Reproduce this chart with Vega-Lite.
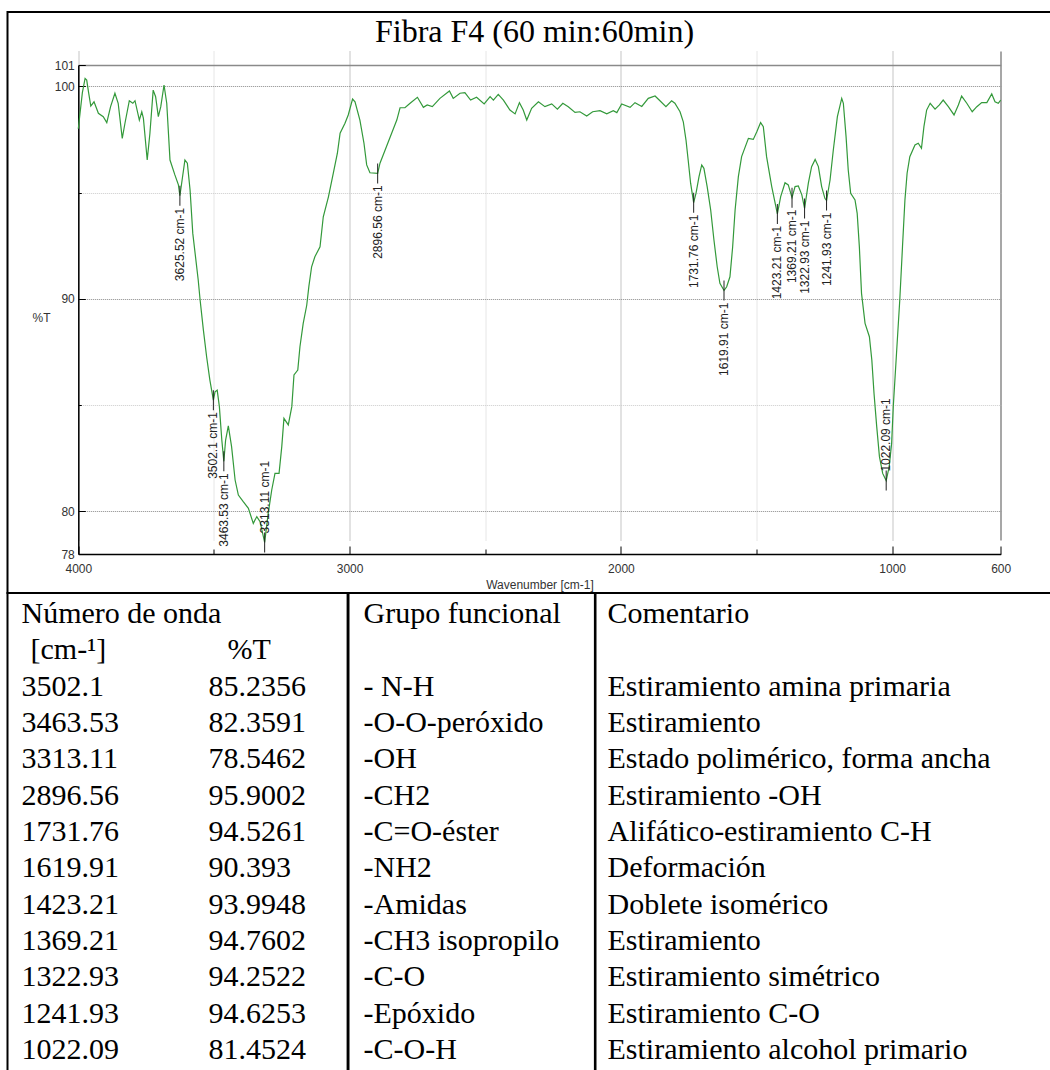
{
  "$schema": "https://vega.github.io/schema/vega-lite/v6.json",
  "background": "white",
  "padding": {"left": 6.5, "top": 11, "right": 0, "bottom": 0},
  "bounds": "flush",
  "spacing": 0,
  "config": {
    "view": {"stroke": "#000", "strokeWidth": 2},
    "axis": {"labelFont": "Liberation Sans", "labelFontSize": 12, "labelColor": "#333", "titleFont": "Liberation Sans", "titleFontSize": 12, "titleFontWeight": "normal", "titleColor": "#333"}
  },
  "datasets": {
    "curva": [
      {"wn":4000,"t":98.0},{"wn":3993,"t":98.8},{"wn":3985,"t":99.7},{"wn":3975,"t":100.37},{"wn":3969,"t":100.29},{"wn":3962,"t":99.7},{"wn":3954,"t":99.07},{"wn":3942,"t":99.27},{"wn":3926,"t":98.73},{"wn":3908,"t":98.57},{"wn":3895,"t":98.29},{"wn":3881,"t":99.04},{"wn":3865,"t":99.67},{"wn":3853,"t":99.2},{"wn":3838,"t":97.55},{"wn":3828,"t":98.26},{"wn":3812,"t":99.32},{"wn":3799,"t":99.2},{"wn":3791,"t":99.32},{"wn":3775,"t":98.41},{"wn":3766,"t":98.8},{"wn":3760,"t":98.49},{"wn":3746,"t":96.53},{"wn":3736,"t":97.79},{"wn":3724,"t":99.82},{"wn":3715,"t":99.51},{"wn":3705,"t":98.57},{"wn":3696,"t":99.04},{"wn":3684,"t":100.06},{"wn":3674,"t":99.2},{"wn":3662,"t":96.53},{"wn":3644,"t":95.83},{"wn":3631,"t":95.36},{"wn":3625.52,"t":94.85},{"wn":3619,"t":95.44},{"wn":3607,"t":96.53},{"wn":3598,"t":96.38},{"wn":3588,"t":95.12},{"wn":3578,"t":93.08},{"wn":3558,"t":90.89},{"wn":3551,"t":89.95},{"wn":3539,"t":88.54},{"wn":3527,"t":87.28},{"wn":3515,"t":86.18},{"wn":3502.1,"t":85.2356},{"wn":3496,"t":85.63},{"wn":3488,"t":85.71},{"wn":3480,"t":84.93},{"wn":3471,"t":83.36},{"wn":3463.53,"t":82.3591},{"wn":3457,"t":83.36},{"wn":3447,"t":84.03},{"wn":3435,"t":83.05},{"wn":3422,"t":81.48},{"wn":3410,"t":80.77},{"wn":3392,"t":80.46},{"wn":3373,"t":80.15},{"wn":3355,"t":79.44},{"wn":3342,"t":79.76},{"wn":3330,"t":79.52},{"wn":3313.11,"t":78.5462},{"wn":3300,"t":79.91},{"wn":3287,"t":81.01},{"wn":3275,"t":81.79},{"wn":3260,"t":81.79},{"wn":3250,"t":83.05},{"wn":3242,"t":84.38},{"wn":3226,"t":84.07},{"wn":3213,"t":84.93},{"wn":3205,"t":86.42},{"wn":3191,"t":86.65},{"wn":3183,"t":87.75},{"wn":3171,"t":88.85},{"wn":3158,"t":89.7},{"wn":3150,"t":90.6},{"wn":3140,"t":91.51},{"wn":3128,"t":91.98},{"wn":3109,"t":92.45},{"wn":3097,"t":93.86},{"wn":3078,"t":94.8},{"wn":3060,"t":95.91},{"wn":3045,"t":96.85},{"wn":3035,"t":97.79},{"wn":3017,"t":98.26},{"wn":3005,"t":98.65},{"wn":2989,"t":99.4},{"wn":2980,"t":99.27},{"wn":2962,"t":98.41},{"wn":2947,"t":97.32},{"wn":2937,"t":96.3},{"wn":2925,"t":95.93},{"wn":2896.56,"t":95.9002},{"wn":2888,"t":96.38},{"wn":2869,"t":97.0},{"wn":2845,"t":97.79},{"wn":2826,"t":98.41},{"wn":2814,"t":98.99},{"wn":2796,"t":98.99},{"wn":2777,"t":99.2},{"wn":2750,"t":99.48},{"wn":2728,"t":99.01},{"wn":2714,"t":99.12},{"wn":2695,"t":99.04},{"wn":2667,"t":99.43},{"wn":2632,"t":99.78},{"wn":2618,"t":99.43},{"wn":2593,"t":99.67},{"wn":2575,"t":99.7},{"wn":2554,"t":99.35},{"wn":2532,"t":99.48},{"wn":2504,"t":99.17},{"wn":2482,"t":99.51},{"wn":2470,"t":99.35},{"wn":2452,"t":99.62},{"wn":2433,"t":99.35},{"wn":2409,"t":98.88},{"wn":2390,"t":98.7},{"wn":2374,"t":99.23},{"wn":2360,"t":98.88},{"wn":2347,"t":98.41},{"wn":2329,"t":98.96},{"wn":2304,"t":99.27},{"wn":2280,"t":99.04},{"wn":2255,"t":99.17},{"wn":2234,"t":98.92},{"wn":2214,"t":99.2},{"wn":2194,"t":99.04},{"wn":2169,"t":98.77},{"wn":2151,"t":98.8},{"wn":2126,"t":98.6},{"wn":2104,"t":98.8},{"wn":2077,"t":98.85},{"wn":2052,"t":98.7},{"wn":2028,"t":98.85},{"wn":2015,"t":98.76},{"wn":1997,"t":99.17},{"wn":1966,"t":99.01},{"wn":1948,"t":99.23},{"wn":1923,"t":99.05},{"wn":1899,"t":99.43},{"wn":1874,"t":99.54},{"wn":1856,"t":99.32},{"wn":1834,"t":99.04},{"wn":1813,"t":99.32},{"wn":1801,"t":99.2},{"wn":1782,"t":98.8},{"wn":1770,"t":98.33},{"wn":1760,"t":97.47},{"wn":1752,"t":96.53},{"wn":1743,"t":95.44},{"wn":1731.76,"t":94.5261},{"wn":1723,"t":94.97},{"wn":1712,"t":95.75},{"wn":1702,"t":96.3},{"wn":1694,"t":96.14},{"wn":1682,"t":95.28},{"wn":1669,"t":94.18},{"wn":1657,"t":92.77},{"wn":1645,"t":91.51},{"wn":1635,"t":90.73},{"wn":1619.91,"t":90.393},{"wn":1610,"t":90.57},{"wn":1598,"t":91.04},{"wn":1588,"t":92.45},{"wn":1579,"t":94.18},{"wn":1567,"t":95.75},{"wn":1555,"t":96.69},{"wn":1530,"t":97.55},{"wn":1512,"t":97.5},{"wn":1499,"t":97.86},{"wn":1485,"t":98.29},{"wn":1475,"t":98.1},{"wn":1463,"t":96.69},{"wn":1444,"t":95.28},{"wn":1423.21,"t":93.9948},{"wn":1411,"t":94.81},{"wn":1395,"t":95.46},{"wn":1383,"t":95.36},{"wn":1369.21,"t":94.7602},{"wn":1358,"t":95.28},{"wn":1346,"t":95.31},{"wn":1333,"t":94.89},{"wn":1322.93,"t":94.2522},{"wn":1309,"t":95.44},{"wn":1297,"t":96.22},{"wn":1284,"t":96.56},{"wn":1272,"t":96.22},{"wn":1260,"t":95.28},{"wn":1248,"t":94.73},{"wn":1241.93,"t":94.6253},{"wn":1229,"t":95.59},{"wn":1217,"t":97.0},{"wn":1202,"t":98.57},{"wn":1186,"t":99.43},{"wn":1180,"t":99.2},{"wn":1170,"t":97.63},{"wn":1162,"t":96.06},{"wn":1153,"t":94.97},{"wn":1137,"t":94.65},{"wn":1129,"t":94.02},{"wn":1121,"t":92.45},{"wn":1113,"t":90.26},{"wn":1100,"t":88.85},{"wn":1084,"t":88.22},{"wn":1075,"t":87.12},{"wn":1067,"t":85.56},{"wn":1057,"t":83.99},{"wn":1047,"t":82.58},{"wn":1035,"t":81.79},{"wn":1022.09,"t":81.4524},{"wn":1011,"t":82.11},{"wn":1002,"t":83.21},{"wn":996,"t":84.93},{"wn":984,"t":87.44},{"wn":972,"t":89.95},{"wn":962,"t":92.45},{"wn":953,"t":94.65},{"wn":945,"t":95.91},{"wn":935,"t":96.69},{"wn":916,"t":97.24},{"wn":904,"t":97.32},{"wn":892,"t":97.08},{"wn":883,"t":98.1},{"wn":873,"t":98.88},{"wn":860,"t":99.2},{"wn":842,"t":98.92},{"wn":826,"t":99.12},{"wn":812,"t":99.35},{"wn":793,"t":99.04},{"wn":772,"t":98.65},{"wn":756,"t":99.12},{"wn":744,"t":99.54},{"wn":725,"t":99.2},{"wn":705,"t":98.8},{"wn":688,"t":99.04},{"wn":670,"t":99.23},{"wn":651,"t":99.23},{"wn":633,"t":99.64},{"wn":621,"t":99.27},{"wn":609,"t":99.2},{"wn":600,"t":99.35}
    ],
    "picos": [
      {"wn":3625.52,"t":94.85,"lab":"3625.52 cm-1"},
      {"wn":3502.1,"t":85.2356,"lab":"3502.1 cm-1"},
      {"wn":3463.53,"t":82.3591,"lab":"3463.53 cm-1"},
      {"wn":3313.11,"t":78.5462,"lab":"3313.11 cm-1"},
      {"wn":2896.56,"t":95.9002,"lab":"2896.56 cm-1"},
      {"wn":1731.76,"t":94.5261,"lab":"1731.76 cm-1"},
      {"wn":1619.91,"t":90.393,"lab":"1619.91 cm-1"},
      {"wn":1423.21,"t":93.9948,"lab":"1423.21 cm-1"},
      {"wn":1369.21,"t":94.7602,"lab":"1369.21 cm-1"},
      {"wn":1322.93,"t":94.2522,"lab":"1322.93 cm-1"},
      {"wn":1241.93,"t":94.6253,"lab":"1241.93 cm-1"},
      {"wn":1022.09,"t":81.4524,"lab":"1022.09 cm-1"}
    ],
    "tabla": [
      {"n":1,"a":"Número de onda","b":"","g":"Grupo funcional","c":"Comentario"},
      {"n":2,"a":"[cm-¹]","b":"%T","g":"","c":""},
      {"n":3,"a":"3502.1","b":"85.2356","g":"- N-H","c":"Estiramiento amina primaria"},
      {"n":4,"a":"3463.53","b":"82.3591","g":"-O-O-peróxido","c":"Estiramiento"},
      {"n":5,"a":"3313.11","b":"78.5462","g":"-OH","c":"Estado polimérico, forma ancha"},
      {"n":6,"a":"2896.56","b":"95.9002","g":"-CH2","c":"Estiramiento -OH"},
      {"n":7,"a":"1731.76","b":"94.5261","g":"-C=O-éster","c":"Alifático-estiramiento C-H"},
      {"n":8,"a":"1619.91","b":"90.393","g":"-NH2","c":"Deformación"},
      {"n":9,"a":"1423.21","b":"93.9948","g":"-Amidas","c":"Doblete isomérico"},
      {"n":10,"a":"1369.21","b":"94.7602","g":"-CH3 isopropilo","c":"Estiramiento"},
      {"n":11,"a":"1322.93","b":"94.2522","g":"-C-O","c":"Estiramiento simétrico"},
      {"n":12,"a":"1241.93","b":"94.6253","g":"-Epóxido","c":"Estiramiento C-O"},
      {"n":13,"a":"1022.09","b":"81.4524","g":"-C-O-H","c":"Estiramiento alcohol primario"}
    ]
  },
  "vconcat": [
    {
      "width": 1045,
      "height": 581,
      "encoding": {
        "y": {
          "field": "t", "type": "quantitative",
          "scale": {"domain": [78, 101], "range": [542, 53], "nice": false, "zero": false},
          "axis": {
            "values": [101, 100, 95, 90, 85, 80, 78],
            "offset": -70.8,
            "title": "%T", "titleAngle": 0, "titleX": -37.3, "titleY": 305, "titleAlign": "center", "titleBaseline": "middle",
            "domainColor": "#000", "domainWidth": 1.5,
            "tickColor": "#000", "tickWidth": 1,
            "tickSize": {"condition": {"test": "datum.value === 95 || datum.value === 85", "value": -3}, "value": -7},
            "labelExpr": "(datum.value === 95 || datum.value === 85) ? '' : datum.label",
            "labelPadding": 11,
            "labelFlush": false, "labelOverlap": false,
            "grid": true,
            "gridColor": {"condition": {"test": "datum.value === 95 || datum.value === 85", "value": "#cccccc"}, "value": "#8a8a8a"},
            "gridDash": {"condition": {"test": "datum.value === 101", "value": []}, "value": [1, 1]},
            "gridWidth": {"condition": {"test": "datum.value === 101", "value": 1.5}, "value": 1}
          }
        }
      },
      "layer": [
        {
          "data": {"name": "curva"},
          "mark": {"type": "line", "color": "#33993a", "strokeWidth": 1.2},
          "encoding": {
            "x": {
              "field": "wn", "type": "quantitative",
              "scale": {"domain": [4000, 600], "range": [70.8, 993.2], "nice": false, "zero": false},
              "axis": {
                "values": [4000, 3500, 3000, 2500, 2000, 1500, 1000, 600],
                "format": "d",
                "offset": -39,
                "title": "Wavenumber [cm-1]",
                "titlePadding": 2,
                "domainColor": "#000", "domainWidth": 1.5,
                "tickColor": "#000", "tickWidth": 1,
                "tickSize": {"condition": {"test": "datum.value % 1000 === 0 || datum.value === 600", "value": -8}, "value": -5},
                "labelExpr": "(datum.value % 1000 === 0 || datum.value === 600) ? datum.label : ''",
                "labelPadding": 17,
                "labelFlush": false, "labelOverlap": false, "labelBound": false,
                "grid": true,
                "gridColor": {"condition": {"test": "datum.value % 1000 === 0 || datum.value === 600", "value": "#8a8a8a"}, "value": "#cccccc"},
                "gridDash": {"condition": {"test": "datum.value === 600", "value": []}, "value": [1, 1]},
                "gridWidth": {"condition": {"test": "datum.value === 600", "value": 1.5}, "value": 1}
              }
            }
          }
        },
        {
          "data": {"name": "picos"},
          "mark": {"type": "tick", "orient": "vertical", "size": 20, "thickness": 1, "color": "#222", "opacity": 1},
          "encoding": {
            "x": {
              "field": "wn", "type": "quantitative",
              "scale": {"domain": [4000, 600], "range": [70.8, 993.2], "nice": false, "zero": false},
              "axis": {
                "orient": "top",
                "title": "Fibra F4 (60 min:60min)",
                "labels": false, "ticks": false, "domain": false, "grid": false,
                "titleFont": "Liberation Serif", "titleFontSize": 32, "titleFontWeight": "normal", "titleColor": "#000",
                "titleAngle": 0, "titleX": 526.5, "titleY": 29.7, "titleAlign": "center", "titleBaseline": "alphabetic"
              }
            }
          }
        },
        {
          "data": {"name": "picos"},
          "transform": [{"filter": "datum.wn !== 3313.11 && datum.wn !== 1022.09"}],
          "mark": {"type": "text", "angle": 270, "align": "right", "baseline": "middle", "dx": -12, "font": "Liberation Sans", "fontSize": 12, "color": "#222"},
          "encoding": {
            "x": {"field": "wn", "type": "quantitative", "scale": {"domain": [4000, 600], "range": [70.8, 993.2], "nice": false, "zero": false}, "axis": null},
            "text": {"field": "lab"}
          }
        },
        {
          "data": {"name": "picos"},
          "transform": [{"filter": "datum.wn === 3313.11 || datum.wn === 1022.09"}],
          "mark": {"type": "text", "angle": 270, "align": "left", "baseline": "middle", "dx": 9, "font": "Liberation Sans", "fontSize": 12, "color": "#222"},
          "encoding": {
            "x": {"field": "wn", "type": "quantitative", "scale": {"domain": [4000, 600], "range": [70.8, 993.2], "nice": false, "zero": false}, "axis": null},
            "text": {"field": "lab"}
          }
        }
      ],
      "resolve": {"axis": {"x": "independent"}}
    },
    {
      "hconcat": [
        {
          "width": 340.1,
          "height": 480,
          "data": {"name": "tabla"},
          "encoding": {"y": {"field": "n", "type": "quantitative", "scale": {"domain": [1, 13], "range": [21, 457], "nice": false, "zero": false}, "axis": null}},
          "layer": [
            {
              "transform": [{"filter": "datum.n !== 2"}],
              "mark": {"type": "text", "align": "left", "baseline": "middle", "font": "Liberation Serif", "fontSize": 30, "color": "#000"},
              "encoding": {
                "x": {"datum": "a", "type": "nominal", "scale": {"type": "point", "domain": ["a", "b"], "range": [14, 201], "padding": 0}, "axis": null},
                "text": {"field": "a"}
              }
            },
            {
              "transform": [{"filter": "datum.n !== 2"}],
              "mark": {"type": "text", "align": "left", "baseline": "middle", "font": "Liberation Serif", "fontSize": 30, "color": "#000"},
              "encoding": {
                "x": {"datum": "b", "type": "nominal", "scale": {"type": "point", "domain": ["a", "b"], "range": [14, 201], "padding": 0}, "axis": null},
                "text": {"field": "b"}
              }
            },
            {
              "transform": [{"filter": "datum.n === 2"}],
              "mark": {"type": "text", "align": "left", "baseline": "middle", "dx": 9, "font": "Liberation Serif", "fontSize": 30, "color": "#000"},
              "encoding": {
                "x": {"datum": "a", "type": "nominal", "scale": {"type": "point", "domain": ["a", "b"], "range": [14, 201], "padding": 0}, "axis": null},
                "text": {"field": "a"}
              }
            },
            {
              "transform": [{"filter": "datum.n === 2"}],
              "mark": {"type": "text", "align": "left", "baseline": "middle", "dx": 19, "font": "Liberation Serif", "fontSize": 30, "color": "#000"},
              "encoding": {
                "x": {"datum": "b", "type": "nominal", "scale": {"type": "point", "domain": ["a", "b"], "range": [14, 201], "padding": 0}, "axis": null},
                "text": {"field": "b"}
              }
            }
          ]
        },
        {
          "width": 246.4,
          "height": 480,
          "data": {"name": "tabla"},
          "mark": {"type": "text", "align": "left", "baseline": "middle", "font": "Liberation Serif", "fontSize": 30, "color": "#000"},
          "encoding": {
            "y": {"field": "n", "type": "quantitative", "scale": {"domain": [1, 13], "range": [21, 457], "nice": false, "zero": false}, "axis": null},
            "x": {"datum": "g", "type": "nominal", "scale": {"type": "point", "domain": ["g"], "range": [0, 30], "padding": 0}, "axis": null},
            "text": {"field": "g"}
          }
        },
        {
          "width": 458.5,
          "height": 480,
          "data": {"name": "tabla"},
          "mark": {"type": "text", "align": "left", "baseline": "middle", "font": "Liberation Serif", "fontSize": 30, "color": "#000"},
          "encoding": {
            "y": {"field": "n", "type": "quantitative", "scale": {"domain": [1, 13], "range": [21, 457], "nice": false, "zero": false}, "axis": null},
            "x": {"datum": "c", "type": "nominal", "scale": {"type": "point", "domain": ["c"], "range": [0, 24], "padding": 0}, "axis": null},
            "text": {"field": "c"}
          }
        }
      ],
      "spacing": 0,
      "bounds": "flush"
    }
  ]
}
